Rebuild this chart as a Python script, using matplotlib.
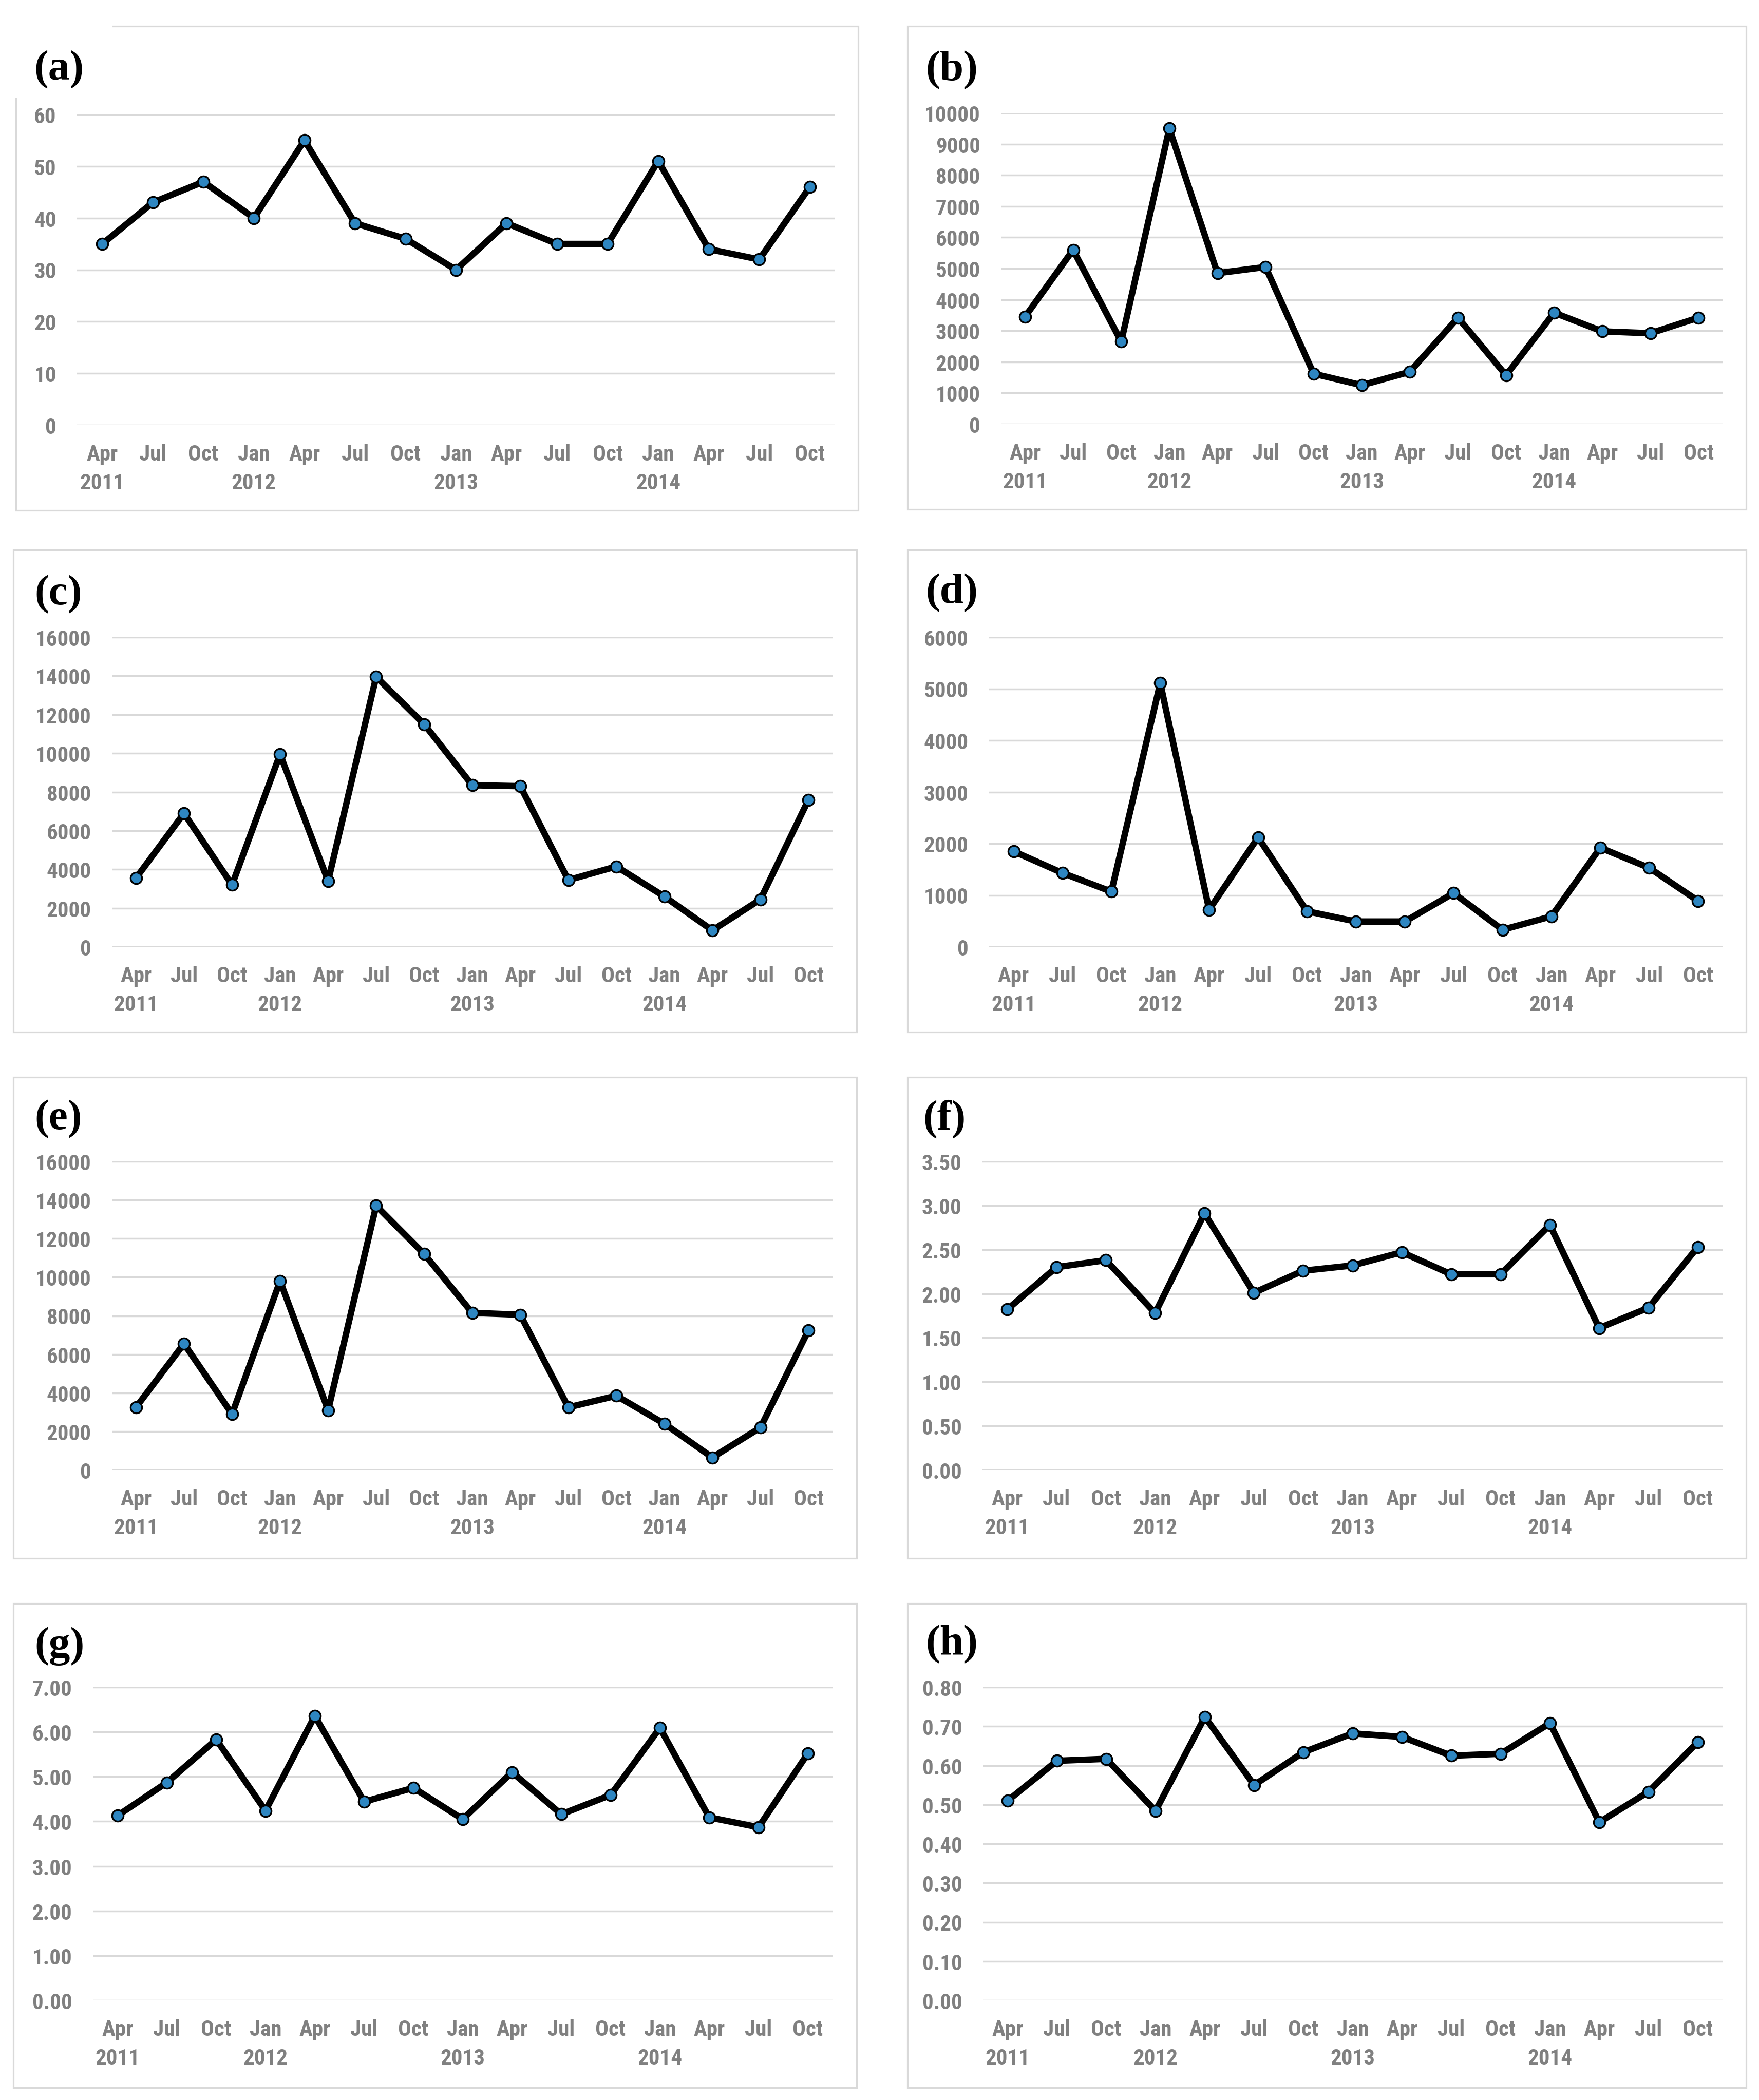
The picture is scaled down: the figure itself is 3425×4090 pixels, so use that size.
import matplotlib
matplotlib.use("Agg")
import matplotlib.pyplot as plt
from matplotlib.patches import Rectangle

W, H = 3425, 4091

months = ["Apr", "Jul", "Oct", "Jan", "Apr", "Jul", "Oct", "Jan",
          "Apr", "Jul", "Oct", "Jan", "Apr", "Jul", "Oct"]
years = ["2011", "2012", "2013", "2014"]
year_pos = [0, 3, 7, 11]

a_vals = [35, 43, 47, 40, 55, 39, 36, 30, 39, 35, 35, 51, 34, 32, 46]
b_vals = [3450, 5600, 2650, 9500, 4850, 5050, 1620, 1250, 1680, 3420,
          1570, 3580, 2980, 2920, 3420]
c_vals = [3550, 6900, 3200, 9950, 3400, 13950, 11500, 8350, 8300, 3450,
          4150, 2600, 850, 2450, 7600]
d_vals = [1850, 1430, 1070, 5110, 720, 2120, 690, 490, 490, 1040,
          330, 590, 1920, 1530, 890]
e_vals = [3250, 6550, 2900, 9800, 3100, 13700, 11200, 8150, 8050, 3250,
          3850, 2400, 650, 2200, 7250]
f_vals = [1.82, 2.30, 2.38, 1.78, 2.91, 2.01, 2.26, 2.32, 2.47, 2.22,
          2.22, 2.78, 1.61, 1.84, 2.53]
g_vals = [4.13, 4.87, 5.83, 4.24, 6.36, 4.44, 4.75, 4.05, 5.10, 4.16,
          4.59, 6.09, 4.09, 3.87, 5.52]
h_vals = [0.51, 0.612, 0.617, 0.484, 0.724, 0.55, 0.634, 0.682, 0.673,
          0.625, 0.63, 0.708, 0.455, 0.533, 0.66]

panel_labels = ["(a)", "(b)", "(c)", "(d)", "(e)", "(f)", "(g)", "(h)"]
series = [a_vals, b_vals, c_vals, d_vals, e_vals, f_vals, g_vals, h_vals]
y_max = [60, 10000, 16000, 6000, 16000, 3.5, 7, 0.8]
y_step = [10, 1000, 2000, 1000, 2000, 0.5, 1, 0.1]
decimals = [0, 0, 0, 0, 0, 2, 2, 2]

# layout in pixels: panel box, plot area (x0, x1, ytop, ybottom), label pos
boxes = [(31, 52, 1671, 995), (1767, 52, 3400, 993),
         (26, 1072, 1668, 2011), (1767, 1072, 3400, 2011),
         (26, 2099, 1668, 3036), (1767, 2099, 3400, 3036),
         (26, 3124, 1668, 4067), (1767, 3124, 3400, 4067)]
areas = [(150, 1626, 224, 829), (1949, 3354, 221, 827),
         (218, 1621, 1242, 1845), (1926, 3354, 1242, 1845),
         (218, 1621, 2263, 2864), (1913, 3354, 2263, 2864),
         (181, 1621, 3287, 3897), (1914, 3354, 3287, 3897)]
label_xy = [(66, 136), (1802, 137), (67, 1158), (1802, 1155),
            (67, 2180), (1797, 2180), (67, 3206), (1802, 3203)]

GRID = "#D9D9D9"
TXT = "#808080"
BLUE = "#2E86C1"
tick_font = ["Liberation Sans Narrow", "Roboto Condensed", "Liberation Sans", "DejaVu Sans"]

fig = plt.figure(figsize=(W / 100, H / 100), dpi=100)

for i in range(8):
    bx0, by0, bx1, by1 = boxes[i]
    fig.patches.append(Rectangle((bx0 / W, 1 - by1 / H), (bx1 - bx0) / W, (by1 - by0) / H,
                                 transform=fig.transFigure, fill=False,
                                 edgecolor=GRID, linewidth=2.3))
    if i == 0:
        # white corner behind the panel label
        fig.patches.append(Rectangle((bx0 / W - 0.002, 1 - 192 / H), (218 - bx0) / W + 0.002,
                                     (192 - by0) / H + 0.002, transform=fig.transFigure,
                                     facecolor="white", edgecolor="none"))

    x0, x1, yt, yb = areas[i]
    ax = fig.add_axes([x0 / W, 1 - yb / H, (x1 - x0) / W, (yb - yt) / H])
    vals = series[i]
    ax.plot(range(len(vals)), vals, color="black", lw=9, marker="o", ms=16,
            mfc=BLUE, mec="black", mew=2.4, solid_joinstyle="round", zorder=3)
    ax.set_xlim(-0.5, len(vals) - 0.5)
    ax.set_ylim(0, y_max[i])
    n = int(round(y_max[i] / y_step[i]))
    ticks = [k * y_step[i] for k in range(n + 1)]
    ax.set_yticks(ticks)
    ax.set_yticklabels([f"{t:.{decimals[i]}f}" for t in ticks],
                       family=tick_font, fontweight="bold", color=TXT, fontsize=31)
    ax.set_xticks(range(len(months)))
    ax.set_xticklabels(months, family=tick_font, fontweight="bold", color=TXT,
                       fontsize=31, va="center")
    ax.tick_params(axis="y", length=0, pad=29)
    ax.tick_params(axis="x", length=0, pad=41)
    ax.grid(axis="y", color=GRID, lw=2.5, zorder=0)
    ax.set_axisbelow(True)
    for s in ax.spines.values():
        s.set_visible(False)
    for p, yr in zip(year_pos, years):
        ax.annotate(yr, xy=(p, 0), xycoords=("data", "axes fraction"),
                    xytext=(0, -81), textcoords="offset points",
                    ha="center", va="center", family=tick_font,
                    fontweight="bold", color=TXT, fontsize=31, annotation_clip=False)

    lx, ly = label_xy[i]
    fig.text(lx / W, 1 - ly / H, panel_labels[i], ha="left", va="center",
             family=["Liberation Serif", "DejaVu Serif"], fontweight="bold", fontsize=60)

fig.savefig("out.png", dpi=100, facecolor="white")
